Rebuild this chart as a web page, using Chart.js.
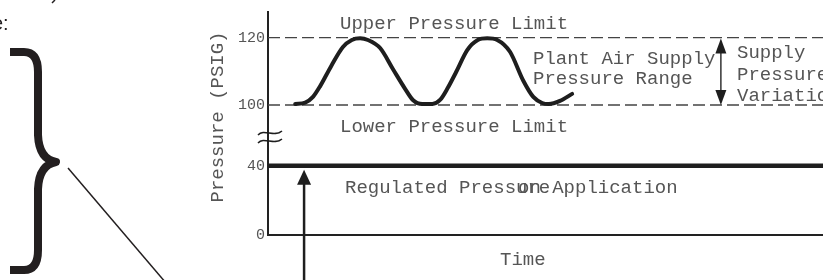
<!DOCTYPE html>
<html lang="en">
<head>
    <meta charset="UTF-8">
    <title>Supply Pressure Variation</title>
    <script src="https://cdn.jsdelivr.net/npm/chart.js"></script>
    <style>
        html, body { margin: 0; padding: 0; background: #fff; }
        #wrap { width: 823px; height: 280px; }
    </style>
</head>
<body>
<div id="wrap"><canvas id="pressureChart"></canvas></div>
<script>
// time has no units on this figure, the plot runs 0..100
const waveTime = [4.9, 6.7, 8.1, 9.4, 11.4, 13.5, 15.1, 16.6, 18.0, 20.2, 22.5, 24.7, 26.1, 27.8,
                  29.6, 31.0, 32.4, 33.9, 35.9, 37.8, 39.5, 41.3, 43.6, 46.0, 47.8, 49.4, 50.6, 52.6, 54.8];
const wavePressure = [100.3, 100.7, 102.4, 105.6, 111.6, 117.2, 119.3, 119.8, 119.3, 116.9, 110.7, 104.8, 101.5, 100.3,
                      100.3, 101.5, 105.1, 109.8, 116.3, 119.3, 119.8, 119.3, 115.8, 107.2, 102.4, 100.6, 100.3, 101.2, 103.3];
const upperLimit = 120;
const lowerLimit = 100;
const regulated = 40;
const lowTicks = [0, 40];
const highTicks = [100, 120];

const textColor = '#555';
const inkColor = '#1e1e1e';
const mono = '"Liberation Mono", "Courier New", monospace';

function flatLine(v) {
    return [{ x: 0, y: v }, { x: 100, y: v }];
}

const notes = {
    id: 'notes',
    afterDraw(chart) {
        const ctx = chart.ctx;
        const x = chart.scales.x;
        const yHigh = chart.scales.yHigh;
        const yLow = chart.scales.yLow;
        ctx.save();

        // labels
        ctx.fillStyle = textColor;
        ctx.font = '19px ' + mono;
        ctx.textAlign = 'left';
        ctx.textBaseline = 'alphabetic';
        ctx.fillText('Upper Pressure Limit', 340, 29);
        ctx.fillText('Lower Pressure Limit', 340, 132);
        ctx.fillText('Plant Air Supply', 533, 64);
        ctx.fillText('Pressure Range', 533, 84);
        ctx.fillText('Supply', 737, 58);
        ctx.fillText('Pressure', 737, 80);
        ctx.fillText('Variation', 737, 101);
        ctx.fillText('Regulated Pressure', 345, 193);
        ctx.fillText('on Application', 518, 193);
        ctx.fillText('Time', 500, 265);

        ctx.save();
        ctx.translate(223, 117);
        ctx.rotate(-Math.PI / 2);
        ctx.textAlign = 'center';
        ctx.fillText('Pressure (PSIG)', 0, 0);
        ctx.restore();

        // axis break
        ctx.strokeStyle = inkColor;
        ctx.lineWidth = 1.5;
        [133, 141].forEach(yy => {
            ctx.beginPath();
            ctx.moveTo(258, yy + 2);
            ctx.bezierCurveTo(264, yy - 5, 274, yy + 5, 282, yy - 2);
            ctx.stroke();
        });

        // arrow up to the regulated line
        const ax = x.getPixelForValue(6.5);
        const tip = yLow.getPixelForValue(regulated) + 4;
        ctx.fillStyle = inkColor;
        ctx.lineWidth = 2.5;
        ctx.beginPath();
        ctx.moveTo(ax, 280);
        ctx.lineTo(ax, tip + 12);
        ctx.stroke();
        ctx.beginPath();
        ctx.moveTo(ax, tip);
        ctx.lineTo(ax - 7, tip + 15);
        ctx.lineTo(ax + 7, tip + 15);
        ctx.closePath();
        ctx.fill();

        // supply variation double arrow
        const dx = x.getPixelForValue(81.6);
        const t1 = yHigh.getPixelForValue(upperLimit) + 1;
        const t2 = yHigh.getPixelForValue(lowerLimit);
        ctx.strokeStyle = '#333';
        ctx.lineWidth = 1.5;
        ctx.beginPath();
        ctx.moveTo(dx, t1 + 10);
        ctx.lineTo(dx, t2 - 10);
        ctx.stroke();
        ctx.fillStyle = inkColor;
        ctx.beginPath();
        ctx.moveTo(dx, t1);
        ctx.lineTo(dx - 5.5, t1 + 15);
        ctx.lineTo(dx + 5.5, t1 + 15);
        ctx.closePath();
        ctx.fill();
        ctx.beginPath();
        ctx.moveTo(dx, t2);
        ctx.lineTo(dx - 5.5, t2 - 15);
        ctx.lineTo(dx + 5.5, t2 - 15);
        ctx.closePath();
        ctx.fill();

        // left side: big brace, pointer line, cut off text
        ctx.strokeStyle = '#231f20';
        ctx.lineWidth = 8;
        ctx.lineCap = 'butt';
        ctx.lineJoin = 'round';
        ctx.beginPath();
        ctx.moveTo(10, 52);
        ctx.lineTo(24, 52);
        ctx.quadraticCurveTo(38, 52, 38, 72);
        ctx.lineTo(38, 135);
        ctx.quadraticCurveTo(39, 159, 56, 162);
        ctx.quadraticCurveTo(39, 165, 38, 189);
        ctx.lineTo(38, 250);
        ctx.quadraticCurveTo(38, 270, 24, 270);
        ctx.lineTo(10, 270);
        ctx.stroke();

        ctx.lineWidth = 1.5;
        ctx.beginPath();
        ctx.moveTo(68, 168);
        ctx.lineTo(166, 283);
        ctx.stroke();

        ctx.beginPath();
        ctx.moveTo(55, 0);
        ctx.lineTo(52, 3);
        ctx.stroke();

        ctx.fillStyle = '#231f20';
        ctx.font = '20px "Liberation Sans", Arial, sans-serif';
        ctx.fillText('e:', -8, 30);

        ctx.restore();
    }
};

const ctx = document.getElementById('pressureChart').getContext('2d');
new Chart(ctx, {
    type: 'line',
    data: {
        datasets: [
            {
                label: 'Plant Air Supply',
                data: waveTime.map((t, i) => ({ x: t, y: wavePressure[i] })),
                yAxisID: 'yHigh',
                borderColor: inkColor,
                borderWidth: 4,
                borderCapStyle: 'round',
                cubicInterpolationMode: 'monotone',
                pointRadius: 0
            },
            {
                label: 'Upper Pressure Limit',
                data: flatLine(upperLimit),
                yAxisID: 'yHigh',
                borderColor: '#444',
                borderWidth: 1.3,
                borderDash: [12, 5],
                pointRadius: 0
            },
            {
                label: 'Lower Pressure Limit',
                data: flatLine(lowerLimit),
                yAxisID: 'yHigh',
                borderColor: '#444',
                borderWidth: 1.3,
                borderDash: [12, 5],
                pointRadius: 0
            },
            {
                label: 'Regulated Pressure',
                data: flatLine(regulated),
                yAxisID: 'yLow',
                borderColor: inkColor,
                borderWidth: 4.5,
                pointRadius: 0
            }
        ]
    },
    options: {
        responsive: true,
        maintainAspectRatio: false,
        animation: false,
        layout: { padding: { top: 12, right: 0, bottom: 0, left: 0 } },
        plugins: { legend: { display: false }, tooltip: { enabled: false } },
        scales: {
            x: {
                type: 'linear',
                min: 0,
                max: 100,
                ticks: { display: false },
                grid: { display: false, drawTicks: false },
                border: { color: '#222', width: 2 },
                afterFit: s => { s.height = 45; }
            },
            yLow: {
                type: 'linear',
                position: 'left',
                stack: 'pressure',
                stackWeight: 99,
                min: 0,
                max: 57.1,
                afterBuildTicks: s => { s.ticks = lowTicks.map(v => ({ value: v })); },
                ticks: { color: textColor, font: { family: mono, size: 15 }, padding: 3 },
                grid: { display: false, drawTicks: false },
                border: { color: '#222', width: 2 },
                afterFit: s => { s.width = 268; }
            },
            yHigh: {
                type: 'linear',
                position: 'left',
                stack: 'pressure',
                stackWeight: 124,
                min: 90.8,
                max: 127.6,
                afterBuildTicks: s => { s.ticks = highTicks.map(v => ({ value: v })); },
                ticks: { color: textColor, font: { family: mono, size: 15 }, padding: 3 },
                grid: { display: false, drawTicks: false },
                border: { color: '#222', width: 2 },
                afterFit: s => { s.width = 268; }
            }
        }
    },
    plugins: [notes]
});
</script>
</body>
</html>
